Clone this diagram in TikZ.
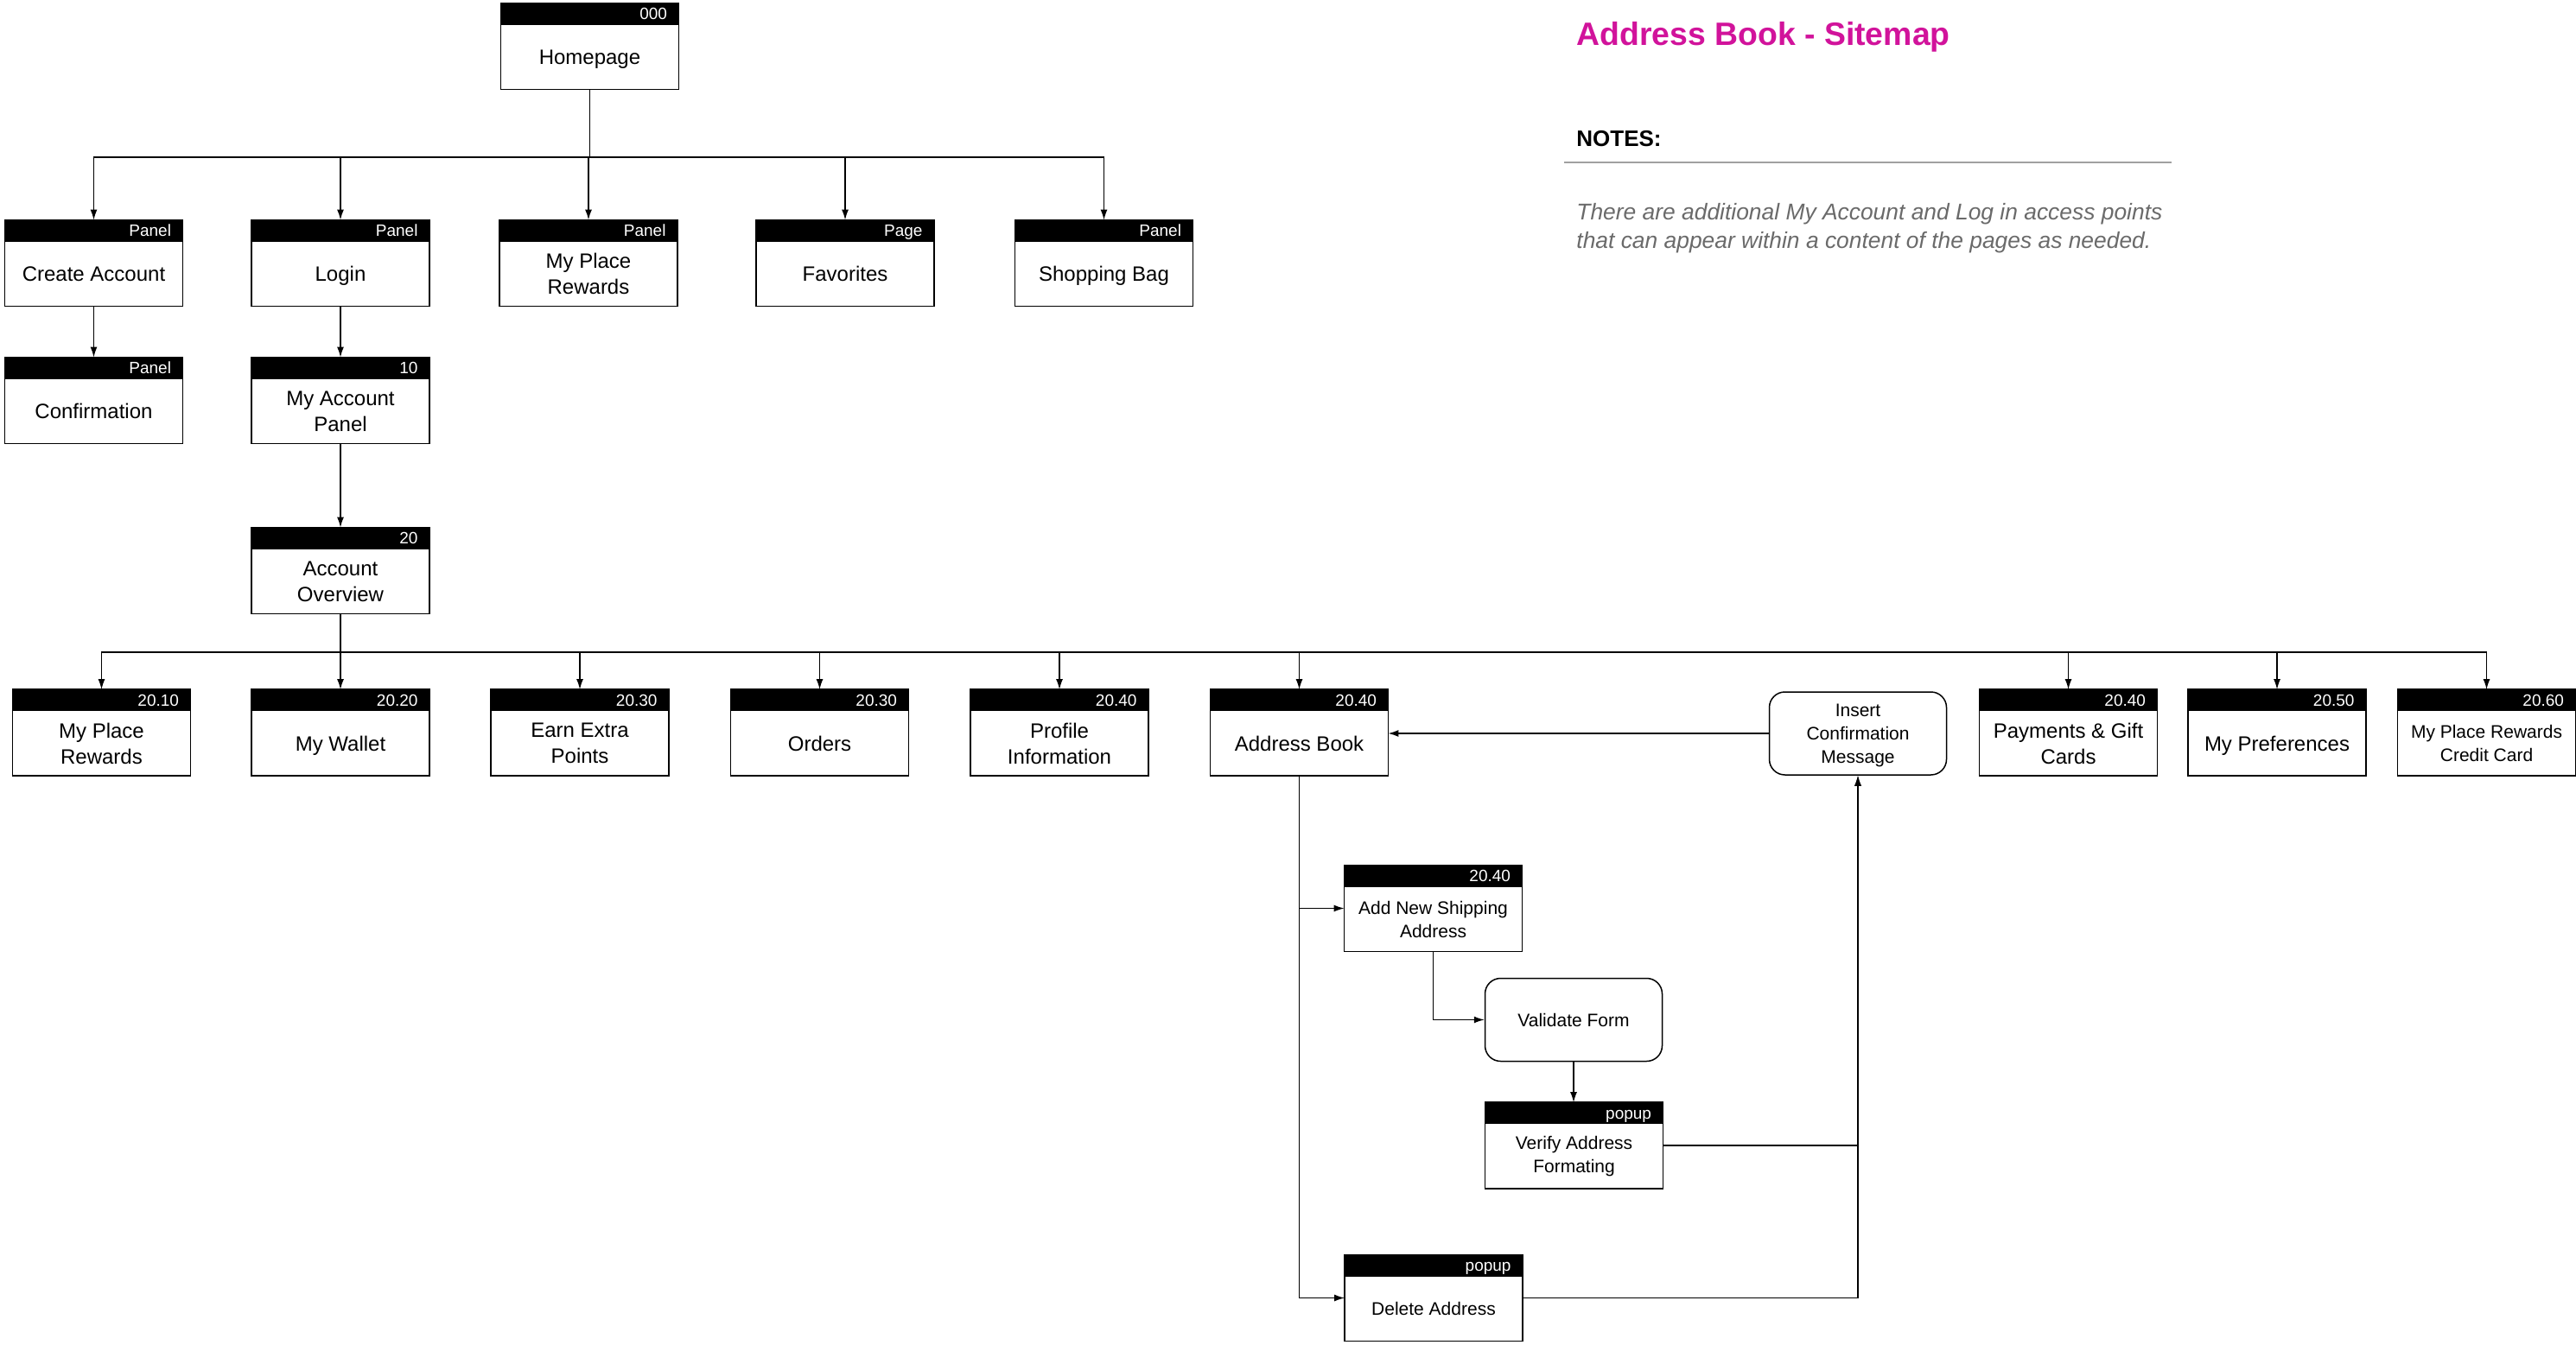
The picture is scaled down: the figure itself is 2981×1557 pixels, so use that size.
\documentclass[tikz,border=0pt]{standalone}
\usepackage{fontspec}
\setmainfont{Liberation Sans}
\usetikzlibrary{arrows.meta}
\definecolor{titlemag}{HTML}{D1139B}
\definecolor{notegray}{HTML}{6A6A6A}
\definecolor{rulegray}{HTML}{A0A0A0}

\tikzset{
 pagebox/.style={draw=none, minimum width=102.5pt, minimum height=49.5pt, inner sep=0pt},
 tagtext/.style={text=white, font=\fontsize{9.5}{11}\selectfont, inner sep=0pt, anchor=base east},
 bodytext/.style={align=center, font=\fontsize{12}{15}\selectfont, inner sep=0pt},
 smalltext/.style={align=center, font=\fontsize{10.5}{13.5}\selectfont, inner sep=0pt},
 oneline/.style={text height=8.6pt, text depth=0pt},
 smallone/.style={text height=7.6pt, text depth=0pt},
 roundbox/.style={draw, line width=0.75pt, rounded corners=9pt, minimum width=102.5pt, minimum height=48pt, align=center, font=\fontsize{10.5}{13.5}\selectfont, inner sep=0pt},
 arr/.style={line width=0.7pt, -{Latex[length=6pt,width=4pt]}},
}

\newcommand\pagenode[6]{% style, name, x, y, tag, text
 \node[pagebox] (#2) at (#3,#4) {};
 \fill (#2.north west) rectangle ([yshift=-12.5pt]#2.north east);
 \node[tagtext] (#2-tag) at ([xshift=-6.5pt,yshift=-9.6pt]#2.north east) {#5};
 \node[#1] (#2-txt) at ([yshift=-6.25pt]#2.center) {#6};
 \draw[line width=0.75pt] (#2.north west) rectangle (#2.south east);
}

\begin{document}
\begin{tikzpicture}[x=0.5pt,y=-0.5pt]
\useasboundingbox (0,0) rectangle (2981,1557);

% title and notes
\node[anchor=base west, inner sep=0pt, text=titlemag, font=\bfseries\fontsize{18.7}{22}\selectfont] (title) at (1824,53) {Address Book - Sitemap};
\node[anchor=base west, inner sep=0pt, font=\bfseries\fontsize{13}{15}\selectfont] (notes) at (1824,170) {NOTES:};
\draw[rulegray, line width=0.6pt] (1810,188) -- (2513,188);
\node[anchor=base west, inner sep=0pt, text=notegray, font=\itshape\fontsize{13.2}{16}\selectfont] (note1) at (1824,255) {There are additional My Account and Log in access points};
\node[anchor=base west, inner sep=0pt, text=notegray, font=\itshape\fontsize{13.2}{16}\selectfont] (note2) at (1824,287) {that can appear within a content of the pages as needed.};

% pages
\pagenode{bodytext,oneline}{home}{682.5}{53.5}{000}{Homepage}
\pagenode{bodytext,oneline}{ca}{108.5}{304.5}{Panel}{Create Account}
\pagenode{bodytext,oneline}{login}{394}{304.5}{Panel}{Login}
\pagenode{bodytext}{mpr}{681}{304.5}{Panel}{My Place\\Rewards}
\pagenode{bodytext,oneline}{fav}{978}{304.5}{Page}{Favorites}
\pagenode{bodytext,oneline}{bag}{1277.5}{304.5}{Panel}{Shopping Bag}
\pagenode{bodytext,oneline}{conf}{108.5}{463.5}{Panel}{Confirmation}
\pagenode{bodytext}{map}{394}{463.5}{10}{My Account\\Panel}
\pagenode{bodytext}{ao}{394}{660.5}{20}{Account\\Overview}

\pagenode{bodytext}{r1}{117.5}{848}{20.10}{My Place\\Rewards}
\pagenode{bodytext,oneline}{r2}{394}{848}{20.20}{My Wallet}
\pagenode{bodytext}{r3}{671}{848}{20.30}{Earn Extra\\Points}
\pagenode{bodytext,oneline}{r4}{948.5}{848}{20.30}{Orders}
\pagenode{bodytext}{r5}{1226}{848}{20.40}{Profile\\Information}
\pagenode{bodytext,oneline}{ab}{1503.5}{848}{20.40}{Address Book}
\pagenode{bodytext}{r7}{2393.5}{848}{20.40}{Payments \& Gift\\Cards}
\pagenode{bodytext,oneline}{r8}{2635}{848}{20.50}{My Preferences}
\pagenode{smalltext}{r9}{2877.5}{848}{20.60}{My Place Rewards\\Credit Card}

\pagenode{smalltext}{add}{1658.5}{1051.5}{20.40}{Add New Shipping\\Address}
\pagenode{smalltext}{ver}{1821.5}{1326}{popup}{Verify Address\\Formating}
\pagenode{smalltext,smallone}{del}{1659}{1502.5}{popup}{Delete Address}

\node[roundbox, smallone] (val) at (1821,1180.5) {Validate Form};
\node[roundbox, text depth=0pt] (ins) at (2150,849) {Insert\\Confirmation\\Message};

% connectors
\coordinate (bus1) at (682.5,182);
\coordinate (bus2) at (394,755);
\foreach \c in {ca,login,mpr,fav,bag}
  \draw[arr] (home.south) -- (home.south |- bus1) -| (\c.north);
\draw[arr] (ca.south) -- (conf.north);
\draw[arr] (login.south) -- (map.north);
\draw[arr] (map.south) -- (ao.north);
\foreach \c in {r1,r2,r3,r4,r5,ab,r7,r8,r9}
  \draw[arr] (ao.south) -- (ao.south |- bus2) -| (\c.north);

\draw[arr] (ins.west) -- (ins.west -| ab.east);
\draw[arr] (ab.south) |- (add.west);
\draw[arr] (ab.south) |- (del.west);
\draw[arr] (add.south) |- (val.west);
\draw[arr] (val.south) -- (val.south |- ver.north);
\draw[arr] (ver.east) -| (ins.south);
\draw[arr] (del.east) -| (ins.south);
\end{tikzpicture}
\end{document}
